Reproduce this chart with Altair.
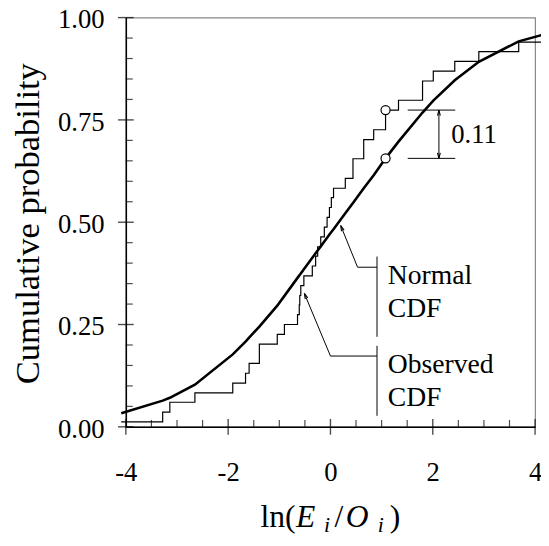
import altair as alt
import pandas as pd

# ---------------- data ----------------
# sorted ln(Ei/Oi) values: x position of each step of the observed CDF
obs_x = [-4.09, -3.28, -3.14, -2.65, -1.91, -1.66, -1.59, -1.39, -1.39, -1.04,
         -0.90, -0.644, -0.61, -0.60, -0.58, -0.52, -0.355, -0.29, -0.25, -0.19,
         -0.12, -0.066, -0.02, 0.017, 0.06, 0.29, 0.44, 0.44, 0.65, 0.65,
         0.845, 1.077, 1.077, 1.33, 1.80, 1.80, 2.01, 2.43, 2.90, 3.68,
         4.30, 4.60]
# observed cumulative probability after each step
obs_p = [0.012, 0.036, 0.060, 0.083, 0.107, 0.131, 0.155, 0.179, 0.202, 0.226,
         0.250, 0.274, 0.298, 0.321, 0.345, 0.369, 0.393, 0.417, 0.440, 0.464,
         0.488, 0.512, 0.536, 0.560, 0.583, 0.607, 0.631, 0.655, 0.679, 0.702,
         0.726, 0.750, 0.774, 0.798, 0.821, 0.845, 0.869, 0.893, 0.917, 0.940,
         0.964, 0.988]
# fitted normal CDF at the same x values (polyline)
norm_p = [0.033, 0.064, 0.071, 0.103, 0.177, 0.208, 0.218, 0.245, 0.245, 0.296,
          0.320, 0.364, 0.370, 0.371, 0.375, 0.385, 0.413, 0.424, 0.431, 0.441,
          0.453, 0.462, 0.470, 0.476, 0.483, 0.522, 0.547, 0.547, 0.583, 0.583,
          0.615, 0.656, 0.656, 0.697, 0.768, 0.768, 0.797, 0.847, 0.892, 0.942,
          0.963, 0.970]

# maximum difference marker (K-S statistic)
ks_x = [1.077, 1.077]
ks_p = [0.774, 0.656]
ks_label = "0.11"

x_ticks_major = [-4, -2, 0, 2, 4]
x_ticks_minor = [-3.5, -3, -2.5, -1.5, -1, -0.5, 0.5, 1, 1.5, 2.5, 3, 3.5]
y_ticks_major = [0.0, 0.25, 0.5, 0.75, 1.0]
y_ticks_minor = [0.05, 0.10, 0.15, 0.20, 0.30, 0.35, 0.40, 0.45, 0.55, 0.60,
                 0.65, 0.70, 0.80, 0.85, 0.90, 0.95]

# annotation line segments (data coords)
seg_x = [0.91, 0.53, 0.53, 0.91, 0.00, 0.00, 1.51, 1.51, 2.12]
seg_y = [0.416, 0.39, 0.39, 0.198, 0.173, 0.173, 0.774, 0.656, 0.774]
seg_x2 = [0.91, 0.91, 0.20, 0.91, 0.91, -0.51, 2.44, 2.44, 2.12]
seg_y2 = [0.22, 0.39, 0.492, 0.027, 0.173, 0.326, 0.774, 0.656, 0.656]

# arrow heads: tip position and pointing angle (deg, clockwise from up)
head_x = [0.20, -0.51, 2.12, 2.12]
head_y = [0.492, 0.326, 0.774, 0.656]
head_angle = [338, 337, 0, 180]

label_text = ["Normal", "CDF", "Observed", "CDF"]
label_x = [1.12, 1.12, 1.12, 1.12]
label_y = [0.349, 0.268, 0.132, 0.051]

FONT = "Liberation Serif, Times New Roman, Tinos, Nimbus Roman, DejaVu Serif, serif"
XS = alt.Scale(domain=[-4, 4], nice=False, zero=False)
YS = alt.Scale(domain=[0, 1], nice=False, zero=False)

obs_df = pd.DataFrame({"x": obs_x, "p": obs_p, "i": list(range(len(obs_x)))})
norm_df = pd.DataFrame({"x": obs_x, "p": norm_p, "i": list(range(len(obs_x)))})
ks_df = pd.DataFrame({"x": ks_x, "p": ks_p})
seg_df = pd.DataFrame({"x": seg_x, "y": seg_y, "x2": seg_x2, "y2": seg_y2})
head_df = pd.DataFrame({"x": head_x, "y": head_y, "a": head_angle})
lab_df = pd.DataFrame({"t": label_text, "x": label_x, "y": label_y})

base_x = alt.X("x:Q", scale=XS,
               axis=alt.Axis(values=x_ticks_major, title=None, ticks=False, grid=False,
                             labelExpr="'' + datum.value", labelFlush=False,
                             labelOverlap=False, labelPadding=33,
                             domainColor="black", domainWidth=1.5))
base_y = alt.Y("p:Q", scale=YS,
               axis=alt.Axis(values=y_ticks_major, title=None, ticks=False, grid=False,
                             format=".2f", labelPadding=22, labelOverlap=False,
                             labelFlush=False, labelOffset=2.5,
                             domainColor="black", domainWidth=1.5))

step = alt.Chart(obs_df).mark_line(interpolate="step-after", color="black",
                                   strokeWidth=1.2).encode(
    x=base_x, y=base_y, order="i:Q")

curve = alt.Chart(norm_df).mark_line(color="black", strokeWidth=2.6).encode(
    x=alt.X("x:Q", scale=XS), y=alt.Y("p:Q", scale=YS), order="i:Q")

circles = alt.Chart(ks_df).mark_point(shape="circle", size=85, filled=True,
                                       fill="white", stroke="black",
                                       strokeWidth=1.2, opacity=1).encode(
    x=alt.X("x:Q", scale=XS), y=alt.Y("p:Q", scale=YS))

segs = alt.Chart(seg_df).mark_rule(color="black", strokeWidth=1).encode(
    x=alt.X("x:Q", scale=XS), y=alt.Y("y:Q", scale=YS),
    x2="x2:Q", y2="y2:Q")

heads = alt.Chart(head_df).mark_point(
    shape="M-0.3,1.2L0,0L0.3,1.2", size=90, filled=False, color="black",
    strokeWidth=1.1, opacity=1).encode(
    x=alt.X("x:Q", scale=XS), y=alt.Y("y:Q", scale=YS), angle=alt.Angle("a:Q", scale=None))

labels = alt.Chart(lab_df).mark_text(font=FONT, fontSize=28, align="left",
                                     baseline="alphabetic", color="black").encode(
    x=alt.X("x:Q", scale=XS), y=alt.Y("y:Q", scale=YS), text="t:N")

ks_text = alt.Chart(pd.DataFrame({"t": [ks_label], "x": [2.36], "y": [0.693]})).mark_text(
    font=FONT, fontSize=27, align="left", baseline="alphabetic", color="black").encode(
    x=alt.X("x:Q", scale=XS), y=alt.Y("y:Q", scale=YS), text="t:N")

# inward minor ticks and crossing major ticks
xt_major = alt.Chart(pd.DataFrame({"x": x_ticks_major, "y": [0] * 5})).mark_tick(
    orient="vertical", size=16, thickness=1.4, color="black").encode(
    x=alt.X("x:Q", scale=XS), y=alt.Y("y:Q", scale=YS))
xt_minor = alt.Chart(pd.DataFrame({"x": x_ticks_minor, "y": [0] * len(x_ticks_minor)})).mark_tick(
    orient="vertical", size=7, thickness=1.2, color="black", yOffset=-3.5).encode(
    x=alt.X("x:Q", scale=XS), y=alt.Y("y:Q", scale=YS))
yt_major = alt.Chart(pd.DataFrame({"x": [-4] * 5, "y": y_ticks_major})).mark_tick(
    orient="horizontal", size=16, thickness=1.4, color="black").encode(
    x=alt.X("x:Q", scale=XS), y=alt.Y("y:Q", scale=YS))
yt_minor = alt.Chart(pd.DataFrame({"x": [-4] * len(y_ticks_minor), "y": y_ticks_minor})).mark_tick(
    orient="horizontal", size=7, thickness=1.2, color="black", xOffset=3.5).encode(
    x=alt.X("x:Q", scale=XS), y=alt.Y("y:Q", scale=YS))

# axis titles as text marks (mixed italic / subscript)
ytitle = alt.Chart(pd.DataFrame({"t": ["Cumulative probability"]})).mark_text(
    font=FONT, fontSize=35, angle=270, align="center", baseline="middle",
    color="black").encode(x=alt.value(-99), y=alt.value(209), text="t:N")

title_parts = [("ln(", 136.5, 0, False, 32), ("E", 172.5, 0, True, 32),
               ("i", 201, 5, True, 22), ("/", 211.5, 0, False, 32),
               ("O", 223, 0, True, 32), ("i", 255.5, 5, True, 22),
               (")", 267.5, 0, False, 32)]
xtitle_layers = []
for txt, dx, dy, it, fs in title_parts:
    xtitle_layers.append(
        alt.Chart(pd.DataFrame({"t": [txt]})).mark_text(
            font=FONT, fontSize=fs, fontStyle="italic" if it else "normal",
            align="left", baseline="alphabetic", color="black").encode(
            x=alt.value(dx), y=alt.value(516.5 + dy), text="t:N"))

chart = alt.layer(step, curve, segs, heads, circles, labels, ks_text,
                  xt_major, xt_minor, yt_major, yt_minor, ytitle, *xtitle_layers).properties(
    width=415, height=415,
    autosize=alt.AutoSizeParams(type="none"),
    padding={"left": 119.5, "top": 6, "right": 6, "bottom": 109},
).configure_view(stroke="#888888", strokeWidth=1.2).configure_axis(
    labelFont=FONT, labelFontSize=27, labelColor="black")

chart.save("out.html", embed_options={"renderer": "svg", "actions": False})
